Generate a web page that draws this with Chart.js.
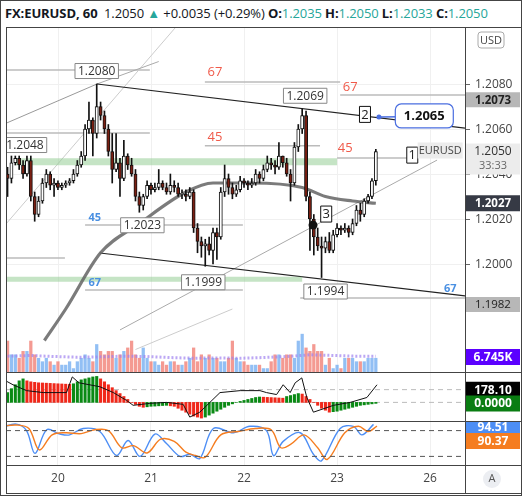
<!DOCTYPE html><html><head><meta charset="utf-8">
<script src="https://cdn.jsdelivr.net/npm/chart.js@4.4.0/dist/chart.umd.min.js"></script>
<style>
body{margin:0;width:522px;height:496px;background:#fff;position:relative;overflow:hidden;font-family:"Open Sans",sans-serif}
#frame{position:absolute;left:0;top:0;width:520px;height:494px;border:1px solid #444}
#hdr{position:absolute;left:5px;top:4px;font-size:13px;color:#131722;white-space:nowrap;letter-spacing:-0.1px}
#hdr .t{color:#26a69a}
.c{position:absolute}
.hl{position:absolute;background:#444;height:1px;left:6px;width:515px}
.vl{position:absolute;background:#444;width:1px}
</style></head><body>
<div id="frame"></div>
<div id="hdr"><b>FX:EURUSD, 60</b>&nbsp; 1.2050 <span class="t">▲</span> +0.0035 (+0.29%) <b>O:</b><span class="t">1.2035</span> <b>H:</b><span class="t">1.2050</span> <b>L:</b><span class="t">1.2033</span> <b>C:</b><span class="t">1.2050</span></div>
<canvas id="main" class="c" style="left:6px;top:28px" width="515" height="344"></canvas>
<canvas id="macd" class="c" style="left:6px;top:373px" width="515" height="48"></canvas>
<canvas id="stoch" class="c" style="left:6px;top:422px" width="515" height="71"></canvas>
<div class="hl" style="top:27px"></div><div class="hl" style="top:372px"></div><div class="hl" style="top:421px"></div><div class="hl" style="top:465px"></div><div class="hl" style="top:493px"></div>
<div class="vl" style="left:6px;top:27px;height:467px"></div><div class="vl" style="left:465px;top:27px;height:467px"></div>
<script>
// ---- data (prices in pips above 1.2000) ----
const firstHour = -13; // hours relative to day 20 00:00
const opens  = [40,38,45,47,44,40, 46,30,22,28,36,40, 35,36,34,35,36,37, 40,44,48,60,64,58, 70,66,60,50,42,45, 38,48,44,40,30,26, 30,35,33,34,36,34, 32,35,34,31,31,30, 32,16,10,8,9,6, 14,12,32,38,34,31, 33,37,36,35,36,40, 38,42,45,44,43,48, 45,40,36,52,60,66, 30,20,12,8,7,10, 6,13,16,15,16,14, 18,24,22,28,30,37];
const closes = [38,45,47,44,40,46, 30,22,28,36,40,35, 36,34,35,36,37,40, 44,48,60,64,58,70, 66,60,50,42,45,38, 48,44,40,30,26,30, 35,33,34,36,34,32, 35,34,31,31,30,32, 16,10,8,9,6,14, 12,32,38,34,31,33, 37,36,35,36,40,38, 42,45,44,43,48,45, 40,36,52,60,66,30, 20,12,8,7,10,6, 13,16,15,16,14,18, 24,22,28,30,37,50];
const highs  = [43,48,48,48,46,48, 48,32,30,38,42,41, 38,37,36,37,38,42, 46,50,62,72,65,80, 72,68,62,58,58,47, 55,49,47,42,32,31, 37,36,36,42,37,36, 40,37,36,33,33,34, 33,18,12,11,12,16, 16,34,44,40,36,35, 39,38,37,38,42,41, 44,48,47,46,54,48, 47,42,54,62,69,68, 32,22,16,12,12,14, 15,18,17,18,17,20, 26,27,29,31,38,51];
const lows   = [30,36,44,42,38,39, 28,19,21,27,34,33, 30,33,33,34,35,36, 39,43,46,58,48,56, 64,58,48,36,41,30, 37,42,39,28,23,24, 29,31,32,33,33,31, 31,32,30,29,28,29, 14,5,3,-1,4,0, 2,11,30,31,29,30, 32,34,33,34,35,36, 37,41,42,40,42,43, 39,28,35,50,58,28, 6,4,6,-6,5,5, 5,12,13,14,12,13, 17,19,21,27,29,35];
const volumes = [9,5,5,4,6,6, 9,5,4,3,4,3, 2,3,2,2,3,1, 3,4,5,4,3,8, 6,5,6,6,4,5, 6,7,9,5,4,7, 4,3,3,2,3,2, 3,3,2,2,3,4, 7,3,5,4,5,4, 4,3,3,4,9,4, 3,3,2,2,2,2, 1,1,3,5,5,4, 5,5,4,9,11,7, 6,8,6,6,2,4, 1,2,1,4,4,4, 3,3,3,4,4,4];
const volMaHours = [-13,-7,-1,5,11,17,23,29,35,41,47,53,59,65,71,77,82];
const volMaVals  = [4.6,4.8,4.5,4.3,4.4,4.6,4.5,4.2,4.0,4.1,4.0,4.2,4.5,5.0,4.8,4.6,4.6];
const smaHours = [-3.5,2,11,21,33,40,50,63,69,76,82];
const smaVals  = [1.1966,1.1980,1.2005,1.2018,1.2032,1.2036,1.2036,1.2034,1.2030,1.2028,1.2027];
const macdHist = [10,14,18,22,24,22, 21,20.5,20,19.8,19.6,19.4, 19.2,19,18.8,18.6,18.4,19, 21,23,24,25,26,26.5, 24,21,18,15,12,9, 6,3,0,-2,-4,-5, -4.5,-4,-3.8,-3.5,-3.2,-3, -3.5,-4,-6,-8,-10,-12, -14,-15,-16,-15,-13,-11, -9,-7,-5,-3,-1.5,0, 1,2,3,4,5,5.5, 5.3,5.1,4.9,4.7,4.5,4.3, 6,7,8,9,8.5,6, 3,0,-3,-6,-8,-10, -9.5,-9,-8,-7,-6,-5, -4,-3,-2.5,-2,-1.5,-1];
const macdLineHours = [-14.4,-11.6,-8.1,-3.8,2.2,3.7,5.4,10.8,14.3,17.7,19.4,23.7,28,32.3,34,36.6,41.8,47,52.1,53.8,56.4,58.1,59.9,61.2,62.9,64.2,65.9,71.1,75.4,79.7,82.3];
const macdLineVals  = [24,18,12,10,10,26,20,16,10,2,-3,-1,0,-2,-15,-10,10,12,12,10,8,18,10,20,25,5,-10,-3,0,5,18];
const kHours = [-14.4,-10.7,-8.1,-5.9,-2.9,0.5,3,6.5,10.8,15.1,18.1,21.2,25,28,31.5,34.1,36.6,40.1,45.3,49.5,53.8,55.6,58.1,62.5,65.9,68,72.8,76.2,78.4,81.4];
const kVals  = [88,95,80,27,82,72,70,85,78,22,57,20,72,50,20,25,15,85,75,90,80,22,55,75,25,10,85,90,70,94.5];
const dHours = [-14.4,-10.7,-7.5,-4.8,-1.5,2,6,9.5,13,16.5,19.5,23,26.5,30,33,35.5,38,42,46.5,51,55,57.5,60,63.5,67,69.5,74,77.5,80,82.3];
const dVals  = [90,93,85,35,70,75,73,82,80,40,45,28,60,55,30,22,18,70,78,85,82,40,48,70,40,13,75,90,78,90.4];
const priceTicks = [1.2000,1.2020,1.2040,1.2060,1.2080];
const dayTicks = [0,24,48,72,96];
const dayLabels = ['20','21','22','23','26'];

const P = v => 1.2 + v/10000;
const hours = closes.map((_,i)=>firstHour+i);
const XMIN=-13.4, XMAX=105;
const axisW = s => { s.width = 56; };
const xGrid = (display) => ({type:'linear',min:XMIN,max:XMAX,offset:false,display:display,
  afterBuildTicks:s=>{s.ticks=dayTicks.map(v=>({value:v}));},
  afterFit:s=>{s.height=display?28:0;},
  ticks:{color:'#444',font:{size:12,family:'Open Sans'},maxRotation:0,autoSkip:false,padding:6,callback:(v)=>dayLabels[dayTicks.indexOf(v)]},
  grid:{color:'#f0f0f0',drawTicks:false,offset:false},border:{display:false}});
const dayGrid={id:'dg',beforeDatasetsDraw(ch){const c=ch.ctx,x=ch.scales.x,a=ch.chartArea;c.save();c.strokeStyle='#f0f0f0';c.lineWidth=1;
  dayTicks.forEach(v=>{const px=Math.round(x.getPixelForValue(v))+0.5;c.beginPath();c.moveTo(px,a.top);c.lineTo(px,a.bottom);c.stroke();});c.restore();}};
const seg = (x1,y1,x2,y2,color,w,extra) => Object.assign({type:'line',data:[{x:x1,y:y1},{x:x2,y:y2}],borderColor:color,borderWidth:w,pointRadius:0,order:5,yAxisID:'y'},extra||{});

function box(ctx,text,cx,cy,o){
  o=o||{};ctx.save();ctx.font=o.font||'12px "Open Sans"';
  const w=o.w||ctx.measureText(text).width+(o.pad||6), h=o.h||15;
  const x=o.left!==undefined?o.left:cx-w/2, y=cy-h/2;
  ctx.beginPath();
  if(ctx.roundRect) ctx.roundRect(x,y,w,h,o.r||0); else ctx.rect(x,y,w,h);
  ctx.fillStyle=o.bg||'#fff';ctx.fill();
  if(o.border){ctx.strokeStyle=o.border;ctx.lineWidth=o.bw||1;ctx.stroke();}
  ctx.fillStyle=o.color||'#222';ctx.textBaseline='middle';ctx.textAlign=o.align||'center';
  ctx.fillText(text,o.align==='left'?x+4:x+w/2,cy+0.5);ctx.restore();
}
function txt(ctx,t,x,y,color,font){ctx.save();ctx.font=font;ctx.fillStyle=color;ctx.textAlign='center';ctx.textBaseline='middle';ctx.fillText(t,x,y);ctx.restore();}

const candleLabels=[[10,1.2080,'1.2080',0,-13],[-8.5,1.2048,'1.2048',0,-11],[21,1.2023,'1.2023',3,13],[38,1.1999,'1.1999',-2,16],[63,1.2069,'1.2069',3,-13],[68,1.1994,'1.1994',4,14]];
const fibLabels=[[40.5,1.20853,'67','#f05a4a'],[40.5,1.20564,'45','#f05a4a'],[75.4,1.20787,'67','#f05a4a'],[74.1,1.20516,'45','#f05a4a'],[9.5,1.20204,'45','#4a90e2'],[9.5,1.19916,'67','#4a90e2'],[101.2,1.19889,'67','#4a90e2']];

const mainPlugin={id:'mp',beforeDatasetsDraw(ch){
  const c=ch.ctx,y=ch.scales.y,a=ch.chartArea;c.save();c.strokeStyle='#f0f0f0';
  priceTicks.forEach(v=>{const py=Math.round(y.getPixelForValue(v))+0.5;c.beginPath();c.moveTo(a.left,py);c.lineTo(a.right,py);c.stroke();});c.restore();},
 afterDraw(ch){
  const c=ch.ctx,x=ch.scales.x,y=ch.scales.y,X=v=>x.getPixelForValue(v),Y=v=>y.getPixelForValue(v);
  const L=ch.chartArea.right+1;
  c.save();c.strokeStyle='#666';c.fillStyle='#444';c.font='12px "Open Sans"';c.textBaseline='middle';
  priceTicks.forEach(v=>{const py=Math.round(Y(v))+0.5;c.beginPath();c.moveTo(L-1,py);c.lineTo(L+4,py);c.stroke();c.fillText(v.toFixed(4),L+9,py);});c.restore();
  candleLabels.forEach(([h,p,t,dx,dy])=>{box(c,t,X(h)+dx,Y(p)+dy,{border:'#888',font:'12px "Open Sans"',color:'#333'});});
  fibLabels.forEach(([h,p,t,col])=>txt(c,t,X(h),Y(p),col,(col==='#4a90e2'?'bold 11px':'13px')+' "Open Sans"'));
  c.save();c.strokeStyle='#4a6ee0';c.lineWidth=1.5;c.beginPath();c.moveTo(X(82.8),Y(1.20653));c.lineTo(X(88.5),Y(1.20655));c.stroke();
  c.fillStyle='#4a6ee0';c.beginPath();c.arc(X(82.8),Y(1.20653),2.5,0,7);c.fill();
  c.fillStyle='#111';c.beginPath();c.arc(X(65.8),Y(1.20173),4.5,0,7);c.fill();c.restore();
  box(c,'1.2065',X(94.5),Y(1.20658),{w:58,h:24,r:6,border:'#4a6ee0',bw:1.2,font:'bold 13px "Open Sans"',color:'#111'});
  box(c,'2',X(79.2),Y(1.20665),{w:11,h:16,border:'#111',font:'13px "Open Sans"'});
  box(c,'3',X(69.2),Y(1.20222),{w:11,h:16,border:'#111',font:'13px "Open Sans"'});
  box(c,'1',X(91.4),Y(1.20484),{w:11,h:16,border:'#111',font:'13px "Open Sans"'});
  box(c,'EURUSD',X(98.6),Y(1.20504),{w:45,h:16,bg:'#ececec',font:'11px "Open Sans"',color:'#444'});
  box(c,'USD',L+25,12,{w:26,h:16,r:3,bg:'#fff',border:'#aaa',font:'11px "Open Sans"',color:'#444'});
  box(c,'1.2073',0,Y(1.2073),{left:L,w:54,h:15,bg:'#b7b7b7',font:'bold 11.5px "Open Sans"',color:'#222'});
  c.save();c.fillStyle='#ececec';c.fillRect(L,Y(1.2050)-8,54,31);c.restore();
  txt(c,'1.2050',L+27,Y(1.2050),'#333','12px "Open Sans"');txt(c,'33:33',L+27,Y(1.2050)+14,'#666','11px "Open Sans"');
  box(c,'1.2027',0,Y(1.2027),{left:L,w:54,h:16,bg:'#363a45',font:'bold 11.5px "Open Sans"',color:'#fff'});
  box(c,'1.1982',0,Y(1.1982),{left:L,w:54,h:15,bg:'#b7b7b7',font:'11.5px "Open Sans"',color:'#222'});
  box(c,'6.745K',0,y.bottom-15,{left:L,w:54,h:16,bg:'#5b00ff',font:'bold 12px "Open Sans"',color:'#fff'});
}};

const up=closes.map((c,i)=>c>=opens[i]);
new Chart(document.getElementById('main'),{type:'bar',
 data:{datasets:[
  {label:'vol',data:volumes.map((v,i)=>({x:hours[i],y:v})),yAxisID:'yv',backgroundColor:up.map(u=>u?'rgba(110,170,240,0.75)':'rgba(240,120,110,0.75)'),barThickness:2.6,grouped:false,order:20},
  {type:'line',data:volMaHours.map((h,i)=>({x:h,y:volMaVals[i]})),yAxisID:'yv',borderColor:'rgba(160,130,240,0.7)',borderWidth:3,borderDash:[2,2],pointRadius:0,order:19},
  seg(-10.8,P(45.5),72,P(45.5),'rgba(150,205,150,0.55)',7),
  seg(XMIN,P(-6.8),63,P(-6.8),'rgba(150,205,150,0.55)',5),
  seg(10.06,1.2080,105,1.20604,'#222',1.2),
  seg(10.8,1.20049,105,1.19858,'#222',1.2),
  seg(-13.2,1.20627,10.06,1.2080,'#999',1),
  seg(10.06,1.2080,26,1.2090,'#aaa',1),
  seg(-13.2,1.20182,30.2,1.21049,'#ccc',1),
  seg(16,1.19707,97.8,1.20462,'#aaa',1),
  seg(20,1.1962,45,1.1980,'#ccc',1),
  seg(XMIN,1.20862,23.7,1.20862,'#bbb',1.5),
  seg(XMIN,1.20582,23.7,1.20582,'#bbb',1.5),
  seg(7,1.20173,47.7,1.20173,'#bbb',1.5),
  seg(XMIN,1.20027,1.8,1.20027,'#bbb',1.5),
  seg(7,1.19884,47.7,1.19884,'#bbb',1.5),
  seg(37.9,1.20809,72.8,1.20809,'#bbb',1.5),
  seg(72.8,1.20751,105,1.20751,'#bbb',1.5),
  seg(37.9,1.20526,67.6,1.20526,'#bbb',1.5),
  seg(72,1.20471,90,1.20471,'#bbb',1.5),
  seg(62.5,1.19849,105,1.19849,'#bbb',1.5),
  {type:'line',data:smaHours.map((h,i)=>({x:h,y:smaVals[i]})),borderColor:'rgba(100,100,100,0.85)',borderWidth:3.2,pointRadius:0,tension:0.4,cubicInterpolationMode:'monotone',order:4,yAxisID:'y'},
  {label:'wick',data:hours.map((h,i)=>({x:h,y:[P(lows[i]),P(highs[i])]})),backgroundColor:'#111',barThickness:1,grouped:false,order:2,yAxisID:'y'},
  {label:'body',data:hours.map((h,i)=>({x:h,y:[P(opens[i]),P(closes[i])===P(opens[i])?P(opens[i])+0.00003:P(closes[i])]})),backgroundColor:up.map(u=>u?'#fff':'#7a1f12'),borderColor:'#111',borderWidth:1,borderSkipped:false,barThickness:3.2,grouped:false,order:1,yAxisID:'y'}
 ]},
 options:{responsive:false,animation:false,layout:{padding:0},plugins:{legend:{display:false},tooltip:{enabled:false}},
  scales:{x:xGrid(false),
   y:{position:'right',min:1.19520,max:1.21049,afterFit:axisW,ticks:{display:false},grid:{display:false},border:{display:false}},
   yv:{display:false,min:0,max:100}}},
 plugins:[dayGrid,mainPlugin]});

const macdPlugin={id:'mc',afterDraw(ch){const c=ch.ctx,y=ch.scales.y,L=ch.chartArea.right+1;
  box(c,'178.10',0,y.getPixelForValue(13),{left:L,w:54,h:16,bg:'#000',font:'bold 12px "Open Sans"',color:'#fff'});
  box(c,'0.0000',0,y.getPixelForValue(0)+1,{left:L,w:54,h:16,bg:'#0a7d12',font:'bold 12px "Open Sans"',color:'#fff'});}};
new Chart(document.getElementById('macd'),{type:'bar',
 data:{datasets:[
  {data:macdHist.map((v,i)=>({x:hours[i],y:v})),backgroundColor:macdHist.map((v,i)=>i>0&&v<macdHist[i-1]?'#f0281a':'#0a8a14'),barThickness:2.4,grouped:false,order:3},
  {type:'line',data:[{x:XMIN,y:0},{x:XMAX,y:0}],borderColor:'#bbb',borderDash:[5,4],borderWidth:1,pointRadius:0,order:4},
  {type:'line',data:[{x:XMIN,y:13},{x:XMAX,y:13}],borderColor:'#bbb',borderDash:[5,4],borderWidth:1,pointRadius:0,order:4},
  {type:'line',data:macdLineHours.map((h,i)=>({x:h,y:macdLineVals[i]})),borderColor:'#111',borderWidth:1,pointRadius:0,order:1}]},
 options:{responsive:false,animation:false,layout:{padding:0},plugins:{legend:{display:false},tooltip:{enabled:false}},
  scales:{x:xGrid(false),y:{position:'right',min:-19,max:30,afterFit:axisW,ticks:{display:false},grid:{display:false},border:{display:false}}}},
 plugins:[dayGrid,macdPlugin]});

const stPlugin={id:'st',afterDraw(ch){const c=ch.ctx,y=ch.scales.y,L=ch.chartArea.right+1;
  box(c,'94.51',0,y.getPixelForValue(89),{left:L,w:54,h:14,bg:'#4d8ef5',font:'bold 12px "Open Sans"',color:'#fff'});
  box(c,'90.37',0,y.getPixelForValue(56),{left:L,w:54,h:16,bg:'#f57d20',font:'bold 12px "Open Sans"',color:'#fff'});
  c.save();c.fillStyle='#eceef2';c.beginPath();c.arc(L+26,y.bottom+14,9,0,7);c.fill();c.restore();
  txt(c,'A',L+26,y.bottom+14,'#555','11px "Open Sans"');}};
new Chart(document.getElementById('stoch'),{type:'line',
 data:{datasets:[
  {data:[{x:XMIN,y:80},{x:XMAX,y:80}],borderColor:'#555',borderDash:[5,4],borderWidth:1,pointRadius:0},
  {data:[{x:XMIN,y:20},{x:XMAX,y:20}],borderColor:'#555',borderDash:[5,4],borderWidth:1,pointRadius:0},
  {data:dHours.map((h,i)=>({x:h,y:dVals[i]})),borderColor:'#f57d20',borderWidth:1.4,pointRadius:0,tension:0.35},
  {data:kHours.map((h,i)=>({x:h,y:kVals[i]})),borderColor:'#4d8ef5',borderWidth:1.4,pointRadius:0,tension:0.35}]},
 options:{responsive:false,animation:false,layout:{padding:0},plugins:{legend:{display:false},tooltip:{enabled:false}},
  scales:{x:xGrid(true),y:{position:'right',min:0,max:100,afterFit:axisW,ticks:{display:false},grid:{display:false},border:{display:false}}}},
 plugins:[stPlugin]});
</script></body></html>
